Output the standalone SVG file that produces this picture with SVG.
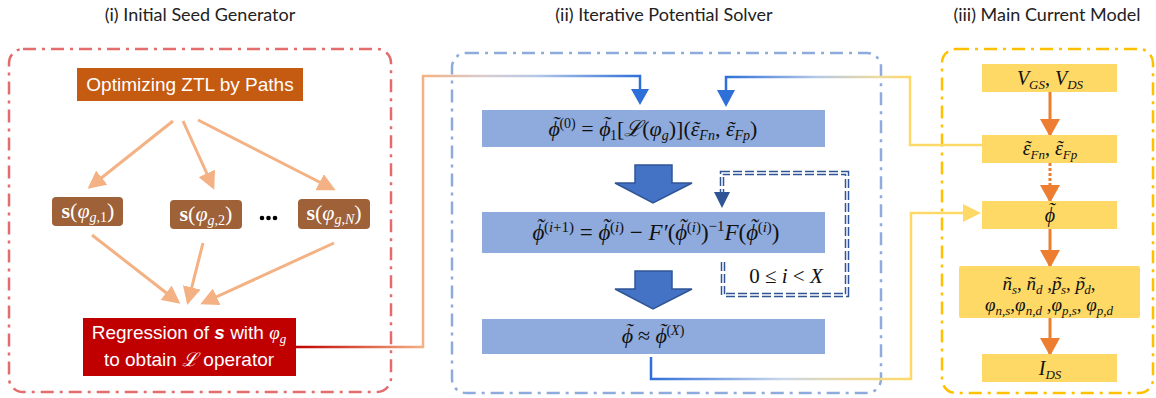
<svg xmlns="http://www.w3.org/2000/svg" width="1156" height="398" viewBox="0 0 1156 398">
<defs>
<style>
.title{font-family:Lato,"Open Sans",sans-serif;font-size:18px;fill:#222;text-anchor:middle}
.sans{font-family:"Liberation Sans",Arial,sans-serif;fill:#fff;text-anchor:middle}
.math{font-family:"Liberation Serif","DejaVu Serif",serif;font-style:italic;fill:#111;text-anchor:middle}
.up{font-style:normal}
.panel{fill:none;stroke-width:2.5;stroke-dasharray:13 6 3 6}
.oarr{stroke:#F4B183;stroke-width:3;fill:none;marker-end:url(#mo)}
.yarr{stroke:#ED7D31;stroke-width:3;fill:none;marker-end:url(#my)}
.sbox{fill:#9E6138}
.bbox{fill:#8FAADC}
.ybox{fill:#FFD966}
</style>
<marker id="mo" viewBox="0 0 18 18" markerWidth="18" markerHeight="18" refX="15" refY="9" orient="auto" markerUnits="userSpaceOnUse"><path d="M0,0 L18,9 L0,18 z" fill="#F4B183"/></marker>
<marker id="my" viewBox="0 0 18 20" markerWidth="18" markerHeight="20" refX="16" refY="10" orient="auto" markerUnits="userSpaceOnUse"><path d="M0,0 L18,10 L0,20 z" fill="#ED7D31"/></marker>
<linearGradient id="g1" gradientUnits="userSpaceOnUse" x1="296" y1="0" x2="640" y2="0">
<stop offset="0" stop-color="#C00000"/><stop offset="0.37" stop-color="#F4B183"/><stop offset="0.55" stop-color="#D8CCD0"/><stop offset="0.7" stop-color="#B4C7E7"/><stop offset="1" stop-color="#2E6FD8"/>
</linearGradient>
<linearGradient id="g2" gradientUnits="userSpaceOnUse" x1="726" y1="0" x2="982" y2="0">
<stop offset="0" stop-color="#2E6FD8"/><stop offset="0.35" stop-color="#B4C7E7"/><stop offset="0.6" stop-color="#EEDC9A"/><stop offset="0.72" stop-color="#FFD966"/><stop offset="1" stop-color="#FFD966"/>
</linearGradient>
<linearGradient id="g3" gradientUnits="userSpaceOnUse" x1="651" y1="0" x2="911" y2="0">
<stop offset="0" stop-color="#2E6FD8"/><stop offset="0.2" stop-color="#6C98E0"/><stop offset="0.5" stop-color="#C9D6EC"/><stop offset="0.75" stop-color="#EAD9A0"/><stop offset="1" stop-color="#FFD966"/>
</linearGradient>
</defs>
<rect width="1156" height="398" fill="#fff"/>

<!-- titles -->
<text class="title" x="200" y="21">(i) Initial Seed Generator</text>
<text class="title" x="664" y="21">(ii) Iterative Potential Solver</text>
<text class="title" x="1047" y="21">(iii) Main Current Model</text>

<!-- panels -->
<rect class="panel" x="9" y="49" width="382" height="343" rx="14" stroke="#E46C6C"/>
<rect class="panel" x="452" y="53" width="429" height="340" rx="14" stroke="#8FAADC"/>
<rect class="panel" x="942" y="49" width="211" height="344" rx="14" stroke="#FFC000"/>

<!-- connectors -->
<g id="connectors">
<path class="oarr" d="M173,121 L90,187"/>
<path class="oarr" d="M183,121 L213,187"/>
<path class="oarr" d="M198,120 L333,189"/>
<path class="oarr" d="M92,235 L178,302"/>
<path class="oarr" d="M203,243 L188,302"/>
<path class="oarr" d="M334,243 L203,303"/>
<path d="M296,347 H423 V76 H640 V90" fill="none" stroke="url(#g1)" stroke-width="2.5"/>
<path d="M631,89 L649,89 L640,105 z" fill="#2E6FD8"/>
<path d="M982,145 H910 V77 H726 V91" fill="none" stroke="url(#g2)" stroke-width="2.5"/>
<path d="M717,90 L735,90 L726,107 z" fill="#2E6FD8"/>
<path d="M651,357 V379 H911 V213 H964" fill="none" stroke="url(#g3)" stroke-width="2.5"/>
<path d="M963,204 L981,213 L963,222 z" fill="#FFD966"/>
<!-- block arrows -->
<path d="M635,165 H672 V183 H692 L653,203 L615,183 H635 z" fill="#4472C4" stroke="#2F5597" stroke-width="1.5"/>
<path d="M635,271 H672 V289 H692 L653,309 L615,289 H635 z" fill="#4472C4" stroke="#2F5597" stroke-width="1.5"/>
<!-- loop -->
<path d="M723,262 V295 H847 V173 H722 V196" fill="none" stroke="#2F5597" stroke-width="4.5" stroke-dasharray="9 3"/>
<path d="M723,262 V295 H847 V173 H722 V196" fill="none" stroke="#fff" stroke-width="1.5"/>
<path d="M714,192 L730,192 L722,208 z" fill="#2F5597"/>
<!-- yellow panel arrows -->
<path class="yarr" d="M1050,92 V135"/>
<path class="yarr" d="M1050,163 V201" stroke-dasharray="3 2"/>
<path class="yarr" d="M1050,229 V266"/>
<path class="yarr" d="M1050,318 V354"/>
</g>

<!-- panel 1 nodes -->
<g id="ztl">
<rect x="77" y="68" width="226" height="33" fill="#C55A11"/>
<text class="sans" x="190" y="91" font-size="19">Optimizing ZTL by Paths</text>
</g>
<g id="s1">
<rect class="sbox" x="52" y="197" width="71" height="29" rx="4"/>
<text class="math" x="88" y="218" font-size="22" style="fill:#fff"><tspan font-weight="bold" font-style="normal">s</tspan><tspan class="up">(</tspan>φ<tspan font-size="14" baseline-shift="-4">g,<tspan class="up">1</tspan></tspan><tspan class="up">)</tspan></text>
</g>
<g id="s2">
<rect class="sbox" x="170" y="200" width="72" height="29" rx="4"/>
<text class="math" x="206" y="221" font-size="22" style="fill:#fff"><tspan font-weight="bold" font-style="normal">s</tspan><tspan class="up">(</tspan>φ<tspan font-size="14" baseline-shift="-4">g,<tspan class="up">2</tspan></tspan><tspan class="up">)</tspan></text>
</g>
<g id="dots">
<circle cx="262" cy="218" r="2.3" fill="#000"/><circle cx="268.5" cy="218" r="2.3" fill="#000"/><circle cx="275" cy="218" r="2.3" fill="#000"/>
</g>
<g id="sN">
<rect class="sbox" x="298" y="199" width="72" height="30" rx="4"/>
<text class="math" x="334" y="220" font-size="22" style="fill:#fff"><tspan font-weight="bold" font-style="normal">s</tspan><tspan class="up">(</tspan>φ<tspan font-size="14" baseline-shift="-4">g,N</tspan><tspan class="up">)</tspan></text>
</g>
<g id="regression">
<rect x="83" y="318" width="213" height="58" fill="#C00000"/>
<text class="sans" x="189" y="339" font-size="19">Regression of <tspan font-weight="bold" font-style="italic">s</tspan> with <tspan font-family="Liberation Serif,serif" font-style="italic">φ<tspan font-size="13" baseline-shift="-4">g</tspan></tspan></text>
<text class="sans" x="189" y="366" font-size="19">to obtain <tspan font-family="Liberation Serif,DejaVu Serif,serif" font-style="italic">ℒ</tspan> operator</text>
</g>

<!-- panel 2 nodes -->
<g id="init">
<rect class="bbox" x="482" y="110" width="343" height="37"/>
<text class="math" x="653" y="136" font-size="22">ϕ<tspan dx="-7.9" dy="-5">˜</tspan><tspan dy="5" font-size="14" baseline-shift="8" class="up">(0)</tspan><tspan class="up"> = </tspan>ϕ<tspan dx="-7.9" dy="-5">˜</tspan><tspan dy="5" font-size="14" baseline-shift="-4" class="up">1</tspan><tspan class="up">[</tspan>ℒ<tspan class="up">(</tspan>φ<tspan font-size="14" baseline-shift="-4">g</tspan><tspan class="up">)](</tspan>ε<tspan dx="-7.4">˜</tspan><tspan font-size="14" baseline-shift="-4">Fn</tspan><tspan class="up">, </tspan>ε<tspan dx="-7.4">˜</tspan><tspan font-size="14" baseline-shift="-4">Fp</tspan><tspan class="up">)</tspan></text>
</g>
<g id="newton">
<rect class="bbox" x="482" y="212" width="343" height="41"/>
<text class="math" x="656" y="240" font-size="23">ϕ<tspan dx="-8.2" dy="-5.5">˜</tspan><tspan dy="5.5" font-size="15" baseline-shift="8"><tspan class="up">(</tspan>i<tspan class="up">+1)</tspan></tspan><tspan class="up"> = </tspan>ϕ<tspan dx="-8.2" dy="-5.5">˜</tspan><tspan dy="5.5" font-size="15" baseline-shift="8"><tspan class="up">(</tspan>i<tspan class="up">)</tspan></tspan><tspan class="up"> − </tspan>F′<tspan class="up">(</tspan>ϕ<tspan dx="-8.2" dy="-5.5">˜</tspan><tspan dy="5.5" font-size="15" baseline-shift="8"><tspan class="up">(</tspan>i<tspan class="up">)</tspan></tspan><tspan class="up">)</tspan><tspan font-size="15" baseline-shift="9" class="up">−1</tspan>F<tspan class="up">(</tspan>ϕ<tspan dx="-8.2" dy="-5.5">˜</tspan><tspan dy="5.5" font-size="15" baseline-shift="8"><tspan class="up">(</tspan>i<tspan class="up">)</tspan></tspan><tspan class="up">)</tspan></text>
</g>
<g id="cond">
<text class="math" x="786" y="283" font-size="21"><tspan class="up">0 ≤ </tspan>i<tspan class="up"> &lt; </tspan>X</text>
</g>
<g id="approx">
<rect class="bbox" x="482" y="319" width="343" height="35"/>
<text class="math" x="653" y="343" font-size="22">ϕ<tspan dx="-7.9" dy="-5">˜</tspan><tspan dy="5" class="up"> ≈ </tspan>ϕ<tspan dx="-7.9" dy="-5">˜</tspan><tspan dy="5" font-size="14" baseline-shift="8"><tspan class="up">(</tspan>X<tspan class="up">)</tspan></tspan></text>
</g>

<!-- panel 3 nodes -->
<g id="vgs">
<rect class="ybox" x="982" y="64" width="135" height="28"/>
<text class="math" x="1050" y="85" font-size="20">V<tspan font-size="13" baseline-shift="-4">GS</tspan><tspan class="up">, </tspan>V<tspan font-size="13" baseline-shift="-4">DS</tspan></text>
</g>
<g id="eps">
<rect class="ybox" x="982" y="135" width="135" height="28"/>
<text class="math" x="1050" y="155" font-size="20">ε<tspan dx="-6.8">˜</tspan><tspan font-size="13" baseline-shift="-4">Fn</tspan><tspan class="up">, </tspan>ε<tspan dx="-6.8">˜</tspan><tspan font-size="13" baseline-shift="-4">Fp</tspan></text>
</g>
<g id="phi">
<rect class="ybox" x="982" y="201" width="135" height="28"/>
<text class="math" x="1050" y="222" font-size="20">ϕ<tspan dx="-7.2" dy="-5">˜</tspan></text>
</g>
<g id="carriers">
<rect class="ybox" x="959" y="266" width="181" height="52" rx="2"/>
<text class="math" x="1049" y="290" font-size="19">ñ<tspan font-size="13" baseline-shift="-4">s</tspan><tspan class="up">, </tspan>ñ<tspan font-size="13" baseline-shift="-4">d</tspan><tspan class="up"> ,</tspan>p<tspan dx="-7">˜</tspan><tspan font-size="13" baseline-shift="-4">s</tspan><tspan class="up">, </tspan>p<tspan dx="-7">˜</tspan><tspan font-size="13" baseline-shift="-4">d</tspan><tspan class="up">,</tspan></text>
<text class="math" x="1049" y="311" font-size="19">φ<tspan font-size="13" baseline-shift="-4">n,s</tspan><tspan class="up">,</tspan>φ<tspan font-size="13" baseline-shift="-4">n,d</tspan><tspan class="up">  ,</tspan>φ<tspan font-size="13" baseline-shift="-4">p,s</tspan><tspan class="up">, </tspan>φ<tspan font-size="13" baseline-shift="-4">p,d</tspan></text>
</g>
<g id="ids">
<rect class="ybox" x="982" y="354" width="135" height="28"/>
<text class="math" x="1050" y="375" font-size="20">I<tspan font-size="13" baseline-shift="-4">DS</tspan></text>
</g>
</svg>
